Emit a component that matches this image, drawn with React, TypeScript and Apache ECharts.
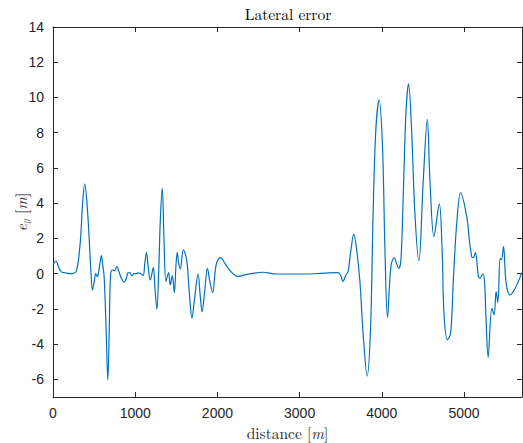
import React, { useEffect, useRef } from "react";
import * as echarts from "echarts";

const distance = [
  0, 35, 70, 100, 150, 200, 250, 280, 310, 337, 360, 386, 410, 439, 460, 480, 500, 520, 540, 565,
  589, 605, 622, 645, 667, 685, 699, 723, 748, 776, 800, 830, 866, 890, 911, 935, 959, 985, 1016, 1040,
  1070, 1098, 1115, 1136, 1160, 1183, 1220, 1240, 1264, 1285, 1305, 1329, 1350, 1374, 1406, 1427, 1451, 1476, 1496, 1512,
  1529, 1549, 1585, 1618, 1634, 1660, 1691, 1720, 1765, 1790, 1813, 1845, 1878, 1910, 1943, 1970, 1992, 2037, 2090, 2146,
  2207, 2260, 2320, 2431, 2553, 2716, 3040, 3300, 3467, 3500, 3528, 3560, 3589, 3620, 3659, 3690, 3732, 3772, 3821, 3862,
  3894, 3927, 3967, 4008, 4037, 4069, 4110, 4150, 4204, 4232, 4260, 4293, 4325, 4362, 4402, 4451, 4504, 4553, 4585, 4634,
  4699, 4732, 4756, 4797, 4837, 4870, 4911, 4959, 5033, 5065, 5094, 5114, 5138, 5175, 5195, 5228, 5248, 5268, 5293, 5338,
  5366, 5390, 5411, 5439, 5455, 5480, 5512, 5561, 5622, 5703,
];

const lateralError = [
  0.5, 0.72, 0.35, 0.1, 0.05, 0.0, 0.02, 0.1, 0.8, 2.1, 4.0, 5.09, 4.2, 2.1, 0.2, -0.93, -0.5, 0.0, -0.17, 0.4,
  1.02, 0.5, -0.17, -3.0, -6.03, -3.0, -0.17, 0.21, 0.17, 0.4, 0.15, -0.25, -0.49, -0.3, 0.04, 0.06, -0.13, 0.0, 0.0, 0.05,
  0.0, -0.1, 0.5, 1.19, 0.3, -0.36, 0.34, -0.8, -2.02, 0.0, 3.0, 4.85, 2.0, -0.45, 0.06, -0.64, -0.11, -1.08, 0.49, 1.21,
  0.59, 0.27, 1.35, 0.97, 0.49, -1.2, -2.53, -1.5, -0.03, -1.2, -2.16, -1.0, 0.3, -0.5, -1.08, 0.0, 0.63, 0.91, 0.6, 0.21,
  -0.07, -0.15, -0.08, 0.02, 0.08, -0.02, -0.02, 0.03, 0.06, -0.1, -0.45, -0.1, 0.11, 1.2, 2.24, 1.5, -0.36, -3.38, -5.81, -3.2,
  3.43, 8.16, 9.86, 7.2, 1.53, -2.5, 0.4, 0.91, 0.3, 0.78, 4.37, 9.1, 10.77, 8.16, 3.43, 0.72, 5.32, 8.76, 5.32, 2.1,
  3.96, 1.53, -2.25, -3.76, -3.38, -0.36, 2.86, 4.6, 3.24, 1.9, 0.97, 0.91, 1.19, -0.17, -0.26, -0.02, -0.36, -2.6, -4.75, -1.97,
  -2.34, -1.02, -1.64, 0.87, 0.78, 1.53, -0.55, -1.21, -0.83, 0.06,
];

const xTicks = [0, 1000, 2000, 3000, 4000, 5000];
const yTicks = [-6, -4, -2, 0, 2, 4, 6, 8, 10, 12, 14];

const X_MIN = 0;
const X_MAX = 5705;
const Y_MIN = -7;
const Y_MAX = 14;

export default function App() {
  const ref = useRef<HTMLDivElement>(null);

  useEffect(() => {
    if (!ref.current) return;
    const chart = echarts.init(ref.current, undefined, { renderer: "svg" });
    const axisColor = "#262626";
    const labelFont = "'Liberation Sans', Arial, Helvetica, sans-serif";
    const serif = "'Latin Modern Roman', 'CMU Serif', 'DejaVu Serif', 'Liberation Serif', serif";
    const data = distance.map((d, i) => [d, lateralError[i]]);

    const baseAxisLine = { show: true, onZero: false, lineStyle: { color: axisColor, width: 1 } };

    chart.setOption({
      animation: false,
      backgroundColor: "#ffffff",
      graphic: [
        {
          type: "text",
          x: 288,
          y: 13,
          style: {
            text: "Lateral error",
            fontFamily: serif,
            fontSize: 15.5,
            fill: "#000",
            align: "center",
            verticalAlign: "middle",
          },
        },
        {
          type: "text",
          x: 20,
          y: 212,
          rotation: Math.PI / 2,
          style: {
            text: "{i|e}{s|y} {n|[}{i|m}{n|]}",
            align: "center",
            verticalAlign: "middle",
            fontFamily: serif,
            fontSize: 15.5,
            fill: "#262626",
            rich: {
              i: { fontFamily: serif, fontStyle: "italic", fontSize: 15.5, fill: "#262626", lineHeight: 20 },
              n: { fontFamily: serif, fontSize: 15.5, fill: "#262626", lineHeight: 20 },
              s: {
                fontFamily: serif,
                fontStyle: "italic",
                fontSize: 10.5,
                fill: "#262626",
                lineHeight: 20,
                verticalAlign: "bottom",
              },
            },
          },
        },
      ],
      grid: { left: 53, right: 1, top: 27, bottom: 46, containLabel: false, outerBoundsMode: "none" },
      xAxis: [
        {
          type: "value",
          position: "bottom",
          min: X_MIN,
          max: X_MAX,
          axisLine: baseAxisLine,
          axisTick: { show: true, inside: true, length: 5, customValues: xTicks, lineStyle: { color: axisColor } },
          axisLabel: {
            show: true,
            customValues: xTicks,
            color: axisColor,
            fontFamily: labelFont,
            fontSize: 14,
            margin: 9,
            formatter: (v: number) => String(v),
          },
          splitLine: { show: false },
          name: "distance [{i|m}]",
          nameLocation: "middle",
          nameGap: 27,
          nameTextStyle: {
            fontFamily: serif,
            fontSize: 15.5,
            color: "#262626",
            rich: { i: { fontFamily: serif, fontStyle: "italic", fontSize: 15.5, color: "#262626" } },
          },
        },
        {
          type: "value",
          position: "top",
          min: X_MIN,
          max: X_MAX,
          axisLine: baseAxisLine,
          axisTick: { show: true, inside: true, length: 5, customValues: xTicks, lineStyle: { color: axisColor } },
          axisLabel: { show: false },
          splitLine: { show: false },
        },
      ],
      yAxis: [
        {
          type: "value",
          position: "left",
          min: Y_MIN,
          max: Y_MAX,
          axisLine: baseAxisLine,
          axisTick: { show: true, inside: true, length: 5, customValues: yTicks, lineStyle: { color: axisColor } },
          axisLabel: {
            show: true,
            customValues: yTicks,
            color: axisColor,
            fontFamily: labelFont,
            fontSize: 14,
            margin: 9,
            formatter: (v: number) => String(v),
          },
          splitLine: { show: false },
        },
        {
          type: "value",
          position: "right",
          min: Y_MIN,
          max: Y_MAX,
          axisLine: baseAxisLine,
          axisTick: { show: true, inside: true, length: 5, customValues: yTicks, lineStyle: { color: axisColor } },
          axisLabel: { show: false },
          splitLine: { show: false },
        },
      ],
      series: [
        {
          type: "line",
          xAxisIndex: 0,
          yAxisIndex: 0,
          data,
          smooth: 0.35,
          showSymbol: false,
          symbol: "none",
          lineStyle: { color: "#0072BD", width: 1.2 },
        },
      ],
    });

    return () => chart.dispose();
  }, []);

  return (
    <div
      ref={ref}
      style={{ position: "fixed", left: 0, top: 0, width: 523, height: 443, background: "#fff" }}
    />
  );
}
